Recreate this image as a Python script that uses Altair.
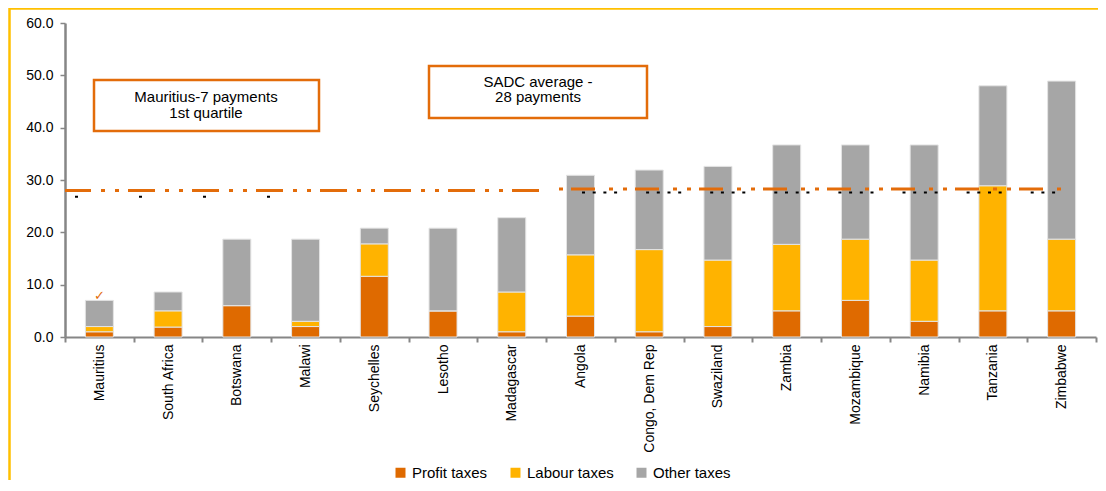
import altair as alt
import pandas as pd

# ---------------- data ----------------
countries = ["Mauritius", "South Africa", "Botswana", "Malawi", "Seychelles",
             "Lesotho", "Madagascar", "Angola", "Congo, Dem Rep", "Swaziland",
             "Zambia", "Mozambique", "Namibia", "Tanzania", "Zimbabwe"]
profit_taxes = [1.0, 1.9, 6.0, 2.0, 11.6, 5.0, 1.0, 4.0, 1.0, 2.0, 5.0, 7.0, 3.0, 5.0, 5.0]
labour_taxes = [1.0, 3.1, 0.0, 1.0, 6.2, 0.0, 7.6, 11.7, 15.7, 12.7, 12.7, 11.7, 11.7, 23.9, 13.7]
other_taxes = [5.0, 3.6, 12.7, 15.7, 3.0, 15.8, 14.2, 15.2, 15.2, 17.9, 19.0, 18.0, 22.0, 19.1, 30.2]
series = ["Profit taxes", "Labour taxes", "Other taxes"]
y_ticks = [0, 10, 20, 30, 40, 50, 60]

# SADC average line (two drawn segments) and the black dotted helper line
sadc_left = [28.0]
sadc_right = [28.3]
dots_left = [26.8]
dots_right = [27.6]
quartile_marker = [7.9]  # small check mark above Mauritius

box1_lines = ["Mauritius-7 payments", "1st quartile"]
box2_lines = ["SADC average -", "28 payments"]

# ---------------- styling ----------------
colors = ["#DF6A00", "#FFB300", "#A6A6A6"]
ORANGE = "#E36C0A"
GOLD = "#FFC000"
AXIS_GREY = "#868686"
FONT = "Liberation Sans"

W, H = 1031, 314

rows = []
for c, p, l, o in zip(countries, profit_taxes, labour_taxes, other_taxes):
    for k, (s, v) in enumerate(zip(series, [p, l, o])):
        rows.append({"country": c, "series": s, "value": v, "k": k})
df = pd.DataFrame(rows)

x_axis = alt.Axis(labelAngle=270, labelAlign="right", labelBaseline="middle",
                  labelFont=FONT, labelFontSize=14, labelColor="#000000",
                  labelPadding=2, tickBand="extent", tickSize=5, tickWidth=2,
                  tickColor=AXIS_GREY, domainColor=AXIS_GREY, domainWidth=2,
                  grid=False, labelOverlap=False, title=None)
y_axis = alt.Axis(values=y_ticks, format=".1f", labelFont=FONT,
                  labelFontSize=14, labelColor="#000000", labelPadding=7,
                  tickSize=5, tickWidth=1.5, tickColor=AXIS_GREY,
                  domainColor=AXIS_GREY, domainWidth=2.5, grid=False, title=None)

x_scale = alt.Scale(paddingInner=0, paddingOuter=0)
y_scale = alt.Scale(domain=[0, 60], nice=False)

bars = alt.Chart(df).mark_bar(size=28, stroke="#e4e4e4", strokeWidth=1).encode(
    x=alt.X("country:N", sort=countries, title=None, scale=x_scale, axis=x_axis),
    y=alt.Y("value:Q", stack="zero", scale=y_scale, title=None, axis=y_axis),
    color=alt.Color("series:N", sort=series,
                    scale=alt.Scale(domain=series, range=colors),
                    legend=alt.Legend(title=None, orient="none", direction="horizontal",
                                      legendX=328, legendY=442, symbolType="square",
                                      symbolSize=100, symbolStrokeWidth=0,
                                      labelFont=FONT, labelFontSize=15,
                                      labelColor="#000000", columnPadding=20,
                                      labelOffset=4)),
    order=alt.Order("k:Q", sort="ascending"),
)

def hline(values, x0, x1, color, width, dash, offset=0):
    return alt.Chart(pd.DataFrame({"v": values})).mark_rule(
        color=color, strokeWidth=width, strokeDash=dash, strokeDashOffset=offset
    ).encode(
        y=alt.Y("v:Q", scale=y_scale, title=None, axis=y_axis),
        x=alt.value(x0), x2=alt.value(x1),
    )

dots1 = hline(dots_left, 10, 215, "#000000", 2, [3, 61])
dots2 = hline(dots_right, 517, 995, "#000000", 2, [3, 7.7, 3, 7.7, 3, 7.7, 3, 29])
line1 = hline(sadc_left, 0, 480, ORANGE, 3, [27, 10, 4, 10, 4, 9], 1)
line2 = hline(sadc_right, 492, 1003, ORANGE, 3, [24, 14, 4, 10, 4, 8], 50)

marker = alt.Chart(pd.DataFrame({"country": ["Mauritius"], "v": quartile_marker})).mark_text(
    text="✓", color=ORANGE, fontSize=13, font="DejaVu Sans", baseline="middle"
).encode(
    x=alt.X("country:N", sort=countries, title=None, scale=x_scale, axis=x_axis),
    y=alt.Y("v:Q", scale=y_scale, title=None, axis=y_axis),
)

one = pd.DataFrame({"k": [0]})

def box(x0, x1, y0, y1):
    return alt.Chart(one).mark_rect(fill="white", stroke=ORANGE, strokeWidth=2.5).encode(
        x=alt.value(x0), x2=alt.value(x1), y=alt.value(y0), y2=alt.value(y1))

def label(text, xc, yc):
    return alt.Chart(one).mark_text(text=text, font=FONT, fontSize=15, color="#000000",
                                    align="center", baseline="middle").encode(
        x=alt.value(xc), y=alt.value(yc))

box1 = box(29, 254, 57, 108)
box2 = box(364, 582, 43, 95)
t1 = label(box1_lines[0], 141, 74)
t2 = label(box1_lines[1], 141, 90)
t3 = label(box2_lines[0], 473, 59)
t4 = label(box2_lines[1], 473, 74)

frame = alt.Chart(one).mark_rect(fill="transparent", stroke=GOLD, strokeWidth=2.5).encode(
    x=alt.value(-55.5), x2=alt.value(1060), y=alt.value(-14.5), y2=alt.value(480))

chart = alt.layer(
    frame, bars, dots1, dots2, line1, line2, marker, box1, box2, t1, t2, t3, t4
).properties(
    width=W, height=H,
    padding={"left": 57, "top": 15, "right": 2, "bottom": 143},
    autosize=alt.AutoSizeParams(type="none"),
).configure_view(stroke=None)

chart.save("out.html", embed_options={"renderer": "svg", "actions": False})
